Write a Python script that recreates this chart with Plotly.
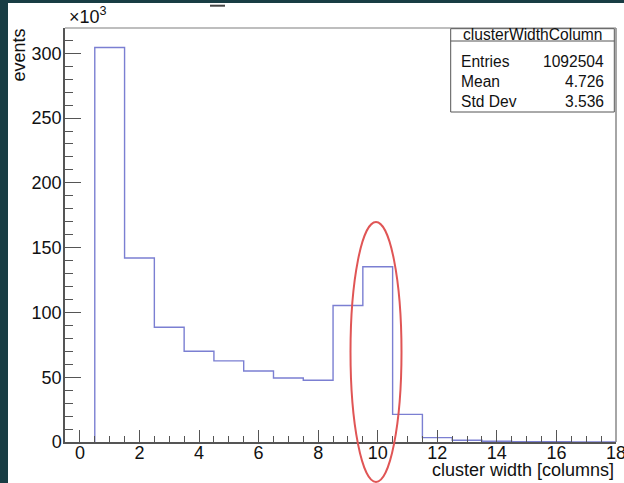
import plotly.graph_objects as go

# cluster width histogram (bin centres 1..18, counts in thousands)
bin_centers = list(range(1, 19))
counts_k = [304.5, 142.0, 88.6, 70.0, 62.6, 54.8, 49.4, 47.7, 105.3,
            135.3, 21.3, 3.4, 1.3, 0.6, 0.3, 0.2, 0.1, 0.1]

x_ticks = [0, 2, 4, 6, 8, 10, 12, 14, 16, 18]
y_ticks = [0, 50, 100, 150, 200, 250, 300]

stat_title = "clusterWidthColumn"
stat_labels = ["Entries", "Mean", "Std Dev"]
stat_values = ["1092504", "4.726", "3.536"]

W, H = 624, 483
L, R, T, B = 65, 8, 28, 41
PW, PH = W - L - R, H - T - B


def px(x):
    return (x - L) / PW


def py(y):
    return (H - B - y) / PH


# step outline like a ROOT histogram
xs = [bin_centers[0] - 0.5] + [c - 0.5 for c in bin_centers] + [bin_centers[-1] + 0.5]
ys = [0] + counts_k + [counts_k[-1]]

FONT = "Liberation Sans, Arial, sans-serif"
AX = "#555555"
FS = 18
SFS = 15.6

fig = go.Figure()
fig.add_trace(go.Scatter(
    x=xs, y=ys, mode="lines", line=dict(color="#7b7fd2", width=1.4, shape="hv"),
    hoverinfo="skip", showlegend=False,
))

fig.update_layout(
    width=W, height=H,
    margin=dict(l=L, r=R, t=T, b=B, pad=0, autoexpand=False),
    paper_bgcolor="#183d44",
    plot_bgcolor="white",
    font=dict(family=FONT, size=FS, color="#111"),
    xaxis=dict(
        range=[-0.5, 18], tickvals=x_ticks, ticktext=[str(v) for v in x_ticks],
        ticks="inside", ticklen=12, tickcolor=AX, tickwidth=1,
        minor=dict(dtick=0.5, tick0=0, ticks="inside", ticklen=6, tickcolor=AX),
        showline=True, linecolor=AX, linewidth=1.5,
        showgrid=False, zeroline=False, ticklabelstandoff=-6,
        ticklabeloverflow="allow", automargin=False,
    ),
    yaxis=dict(
        range=[0, 319.5], tickvals=y_ticks, ticktext=[str(v) for v in y_ticks],
        ticks="inside", ticklen=16, tickcolor=AX, tickwidth=1,
        minor=dict(dtick=10, tick0=0, ticks="inside", ticklen=8, tickcolor=AX),
        showline=True, linecolor=AX, linewidth=1.5,
        showgrid=False, zeroline=False, ticklabelstandoff=-2,
        ticklabeloverflow="allow", automargin=False,
    ),
)

shapes = [
    # white canvas inside the dark window border
    dict(type="rect", xref="paper", yref="paper", layer="below",
         x0=px(8), x1=px(W + 2), y0=py(3), y1=py(H + 2),
         fillcolor="white", line=dict(width=0)),
    # top and right frame edges
    dict(type="line", xref="paper", yref="paper", x0=0, x1=1, y0=1, y1=1,
         line=dict(color="#a8a8a8", width=1.5)),
    dict(type="line", xref="paper", yref="paper", x0=1, x1=1, y0=0, y1=1,
         line=dict(color="#888888", width=1.5)),
    # short dash of the title line
    dict(type="line", xref="paper", yref="paper", x0=px(210), x1=px(225),
         y0=py(5.7), y1=py(5.7), line=dict(color="#444", width=2)),
    # statistics box
    dict(type="rect", xref="paper", yref="paper",
         x0=px(450.7), x1=px(614.3), y0=py(112), y1=py(28.7),
         fillcolor="white", line=dict(color="#555", width=1)),
    dict(type="line", xref="paper", yref="paper",
         x0=px(450.7), x1=px(614.3), y0=py(41), y1=py(41),
         line=dict(color="#555", width=1)),
    # highlight around the peak at width 10
    dict(type="circle", xref="paper", yref="paper",
         x0=px(350.5), x1=px(401.5), y0=py(482), y1=py(222),
         line=dict(color="#e05555", width=2)),
]
fig.update_layout(shapes=shapes)

ann = [
    dict(text="events", x=px(18), y=py(27), textangle=-90,
         xanchor="center", yanchor="top", font=dict(size=FS)),
    dict(text="cluster width [columns]", x=px(616), y=py(470),
         xanchor="right", yanchor="middle", font=dict(size=FS)),
    dict(text="×10<sup>3</sup>", x=px(67), y=py(15),
         xanchor="left", yanchor="middle", font=dict(size=FS)),
    dict(text=stat_title, x=px(532.5), y=py(35),
         xanchor="center", yanchor="middle", font=dict(size=SFS)),
]
row_y = [61, 81, 101]
for lab, val, yy in zip(stat_labels, stat_values, row_y):
    ann.append(dict(text=lab, x=px(459), y=py(yy), xanchor="left",
                    yanchor="middle", font=dict(size=SFS)))
    ann.append(dict(text=val, x=px(606), y=py(yy), xanchor="right",
                    yanchor="middle", font=dict(size=SFS)))
for a in ann:
    a.update(xref="paper", yref="paper", showarrow=False)
fig.update_layout(annotations=ann)

fig.write_html("out.html")
